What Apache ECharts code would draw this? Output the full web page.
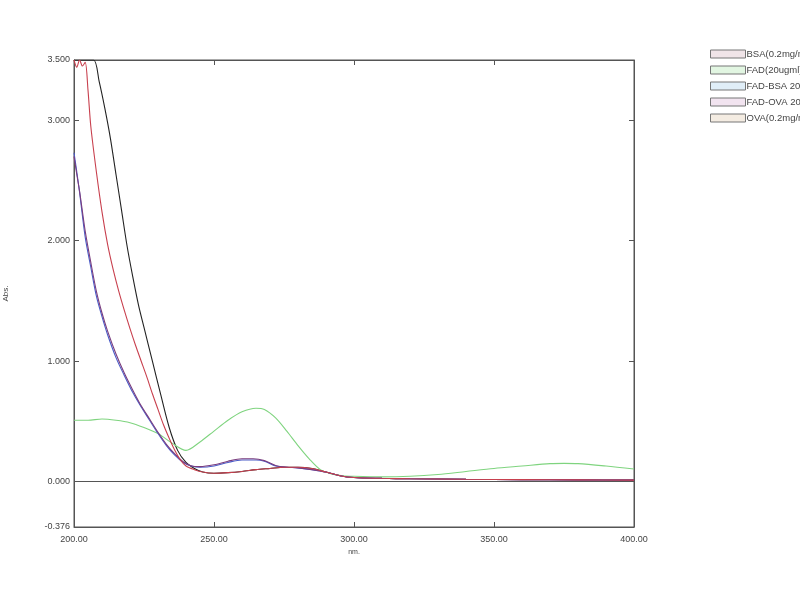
<!DOCTYPE html>
<html>
<head>
<meta charset="utf-8">
<script src="https://cdn.jsdelivr.net/npm/echarts@6/dist/echarts.min.js"></script>
<style>html,body{margin:0;padding:0;background:#fff;}#c{width:800px;height:600px;}</style>
</head>
<body>
<div id="c"></div>
<script>
// Series names (legend)
const seriesNames = ['BSA(0.2mg/ml)', 'FAD(20ugml)', 'FAD-BSA 20ug/ml', 'FAD-OVA 20ug/ml', 'OVA(0.2mg/ml)'];

// Wavelengths (nm) and absorbance values
const bsaNm  = [200, 203, 207, 209, 211, 213, 215, 217, 219, 221, 223, 225, 228, 231, 234, 237, 240, 243, 246, 250, 255, 260, 265, 270, 275, 280, 285, 290, 295, 300, 310, 320, 340, 360, 380, 400];
const bsaAbs = [3.5, 3.5, 3.5, 3.32, 3.1, 2.85, 2.55, 2.25, 1.95, 1.7, 1.47, 1.28, 1.0, 0.72, 0.45, 0.26, 0.16, 0.11, 0.08, 0.07, 0.075, 0.085, 0.1, 0.11, 0.12, 0.12, 0.11, 0.08, 0.05, 0.035, 0.028, 0.024, 0.02, 0.017, 0.015, 0.013];

const fadNm  = [200, 205, 210, 215, 220, 225, 230, 235, 240, 245, 250, 255, 260, 265, 268, 272, 276, 280, 284, 288, 292, 296, 300, 310, 320, 330, 340, 350, 360, 370, 375, 380, 390, 400];
const fadAbs = [0.51, 0.51, 0.52, 0.51, 0.49, 0.45, 0.4, 0.32, 0.26, 0.33, 0.42, 0.51, 0.58, 0.61, 0.6, 0.53, 0.42, 0.3, 0.19, 0.1, 0.065, 0.05, 0.045, 0.04, 0.045, 0.06, 0.085, 0.11, 0.13, 0.15, 0.152, 0.15, 0.13, 0.105];

const fadBsaNm  = [200, 201, 202, 204, 206, 208, 210, 212, 215, 218, 221, 224, 227, 230, 233, 236, 239, 242, 245, 250, 255, 260, 265, 268, 272, 276, 280, 285, 290, 295, 300, 310, 320, 340, 360, 380, 400];
const fadBsaAbs = [2.73, 2.57, 2.4, 2.03, 1.78, 1.54, 1.37, 1.22, 1.03, 0.88, 0.74, 0.62, 0.51, 0.4, 0.3, 0.22, 0.16, 0.13, 0.12, 0.13, 0.16, 0.18, 0.18, 0.17, 0.13, 0.12, 0.115, 0.1, 0.08, 0.05, 0.035, 0.028, 0.024, 0.02, 0.017, 0.015, 0.013];

const fadOvaNm  = [200, 201, 202, 204, 206, 208, 210, 212, 215, 218, 221, 224, 227, 230, 233, 236, 239, 242, 245, 250, 255, 260, 264, 268, 272, 276, 280, 285, 290, 295, 300, 310, 320, 340, 360, 380, 400];
const fadOvaAbs = [2.7, 2.55, 2.41, 2.08, 1.82, 1.58, 1.4, 1.25, 1.06, 0.9, 0.76, 0.63, 0.52, 0.41, 0.31, 0.23, 0.165, 0.13, 0.125, 0.14, 0.17, 0.19, 0.19, 0.175, 0.135, 0.12, 0.115, 0.1, 0.08, 0.05, 0.035, 0.028, 0.024, 0.02, 0.017, 0.015, 0.013];

const ovaNm  = [200, 201, 202, 203, 204, 205, 206, 208, 210, 212, 214, 216, 218, 220, 222, 224, 226, 228, 230, 232, 234, 236, 238, 240, 243, 246, 250, 255, 260, 265, 270, 275, 280, 285, 290, 295, 300, 310, 320, 340, 360, 380, 400];
const ovaAbs = [3.5, 3.44, 3.5, 3.45, 3.48, 3.25, 2.95, 2.57, 2.24, 1.97, 1.76, 1.58, 1.42, 1.27, 1.13, 1.0, 0.87, 0.73, 0.6, 0.47, 0.36, 0.26, 0.18, 0.13, 0.1, 0.08, 0.07, 0.075, 0.085, 0.1, 0.11, 0.12, 0.12, 0.11, 0.08, 0.05, 0.035, 0.028, 0.024, 0.02, 0.017, 0.015, 0.013];

// Axis tick labels
const xTicks = [200, 250, 300, 350, 400];
const yLabelValues = [-0.376, 0, 1, 2, 3, 3.5];
const yTickValues = [0, 1, 2, 3];

const lineColors = ['#222222', '#7fd47f', '#4a5cc8', '#7a3d7e', '#c8404e'];
const iconColors = ['#f0e4e8', '#e2f6e2', '#e0eef8', '#f2e4f0', '#f4ece2'];

function pairs(xs, ys) { return xs.map((x, i) => [x, ys[i]]); }
const allData = [pairs(bsaNm, bsaAbs), pairs(fadNm, fadAbs), pairs(fadBsaNm, fadBsaAbs), pairs(fadOvaNm, fadOvaAbs), pairs(ovaNm, ovaAbs)];

const chart = echarts.init(document.getElementById('c'), null, {renderer: 'canvas'});
const axisTxt = {color: '#444', fontSize: 9, fontFamily: 'Liberation Sans, Arial, sans-serif'};

const series = seriesNames.map((n, i) => ({
  name: n, type: 'line', data: allData[i], smooth: 0.3, showSymbol: false, symbol: 'none',
  lineStyle: {color: lineColors[i], width: 1.1}, itemStyle: {color: lineColors[i]},
  z: 3, animation: false
}));
series[0].markLine = {
  silent: true, symbol: 'none', label: {show: false},
  lineStyle: {color: '#555', width: 1, type: 'solid'},
  data: [{yAxis: 0}], animation: false
};

chart.setOption({
  animation: false,
  backgroundColor: '#fff',
  grid: {left: 74, right: 166, top: 60, bottom: 73, show: true, borderColor: '#555', borderWidth: 1, containLabel: false, outerBoundsMode: 'none'},
  legend: {
    orient: 'vertical', left: 710, top: 49, padding: 0, itemWidth: 35, itemHeight: 8, itemGap: 6,
    icon: 'rect',
    textStyle: {color: '#444', fontSize: 9.5, fontFamily: 'Liberation Sans, Arial, sans-serif', padding: [0, 0, 0, -4]},
    data: seriesNames.map((n, i) => ({name: n, itemStyle: {color: iconColors[i], borderColor: '#777', borderWidth: 1}}))
  },
  xAxis: [{
    type: 'value', min: 200, max: 400, interval: 50, position: 'bottom',
    name: 'nm.', nameLocation: 'middle', nameGap: 19,
    nameTextStyle: {color: '#444', fontSize: 7, fontFamily: 'Liberation Sans, Arial, sans-serif'},
    axisLine: {show: true, onZero: false, lineStyle: {color: '#555'}},
    axisTick: {show: true, inside: true, length: 5, lineStyle: {color: '#555'}, customValues: [250, 300, 350]},
    axisLabel: {...axisTxt, margin: 8, formatter: v => v.toFixed(2), customValues: xTicks},
    splitLine: {show: false}
  }, {
    type: 'value', min: 200, max: 400, interval: 50, position: 'top',
    axisLine: {show: true, onZero: false, lineStyle: {color: '#555'}},
    axisTick: {show: true, inside: true, length: 5, lineStyle: {color: '#555'}, customValues: [250, 300, 350]},
    axisLabel: {show: false}, splitLine: {show: false}
  }],
  yAxis: [{
    type: 'value', min: -0.376, max: 3.5, position: 'left',
    name: 'Abs.', nameLocation: 'middle', nameGap: 64,
    nameTextStyle: {color: '#444', fontSize: 8, fontFamily: 'Liberation Sans, Arial, sans-serif'},
    axisLine: {show: true, onZero: false, lineStyle: {color: '#555'}},
    axisTick: {show: true, inside: true, length: 5, lineStyle: {color: '#555'}, customValues: yTickValues},
    axisLabel: {...axisTxt, margin: 4, formatter: v => v.toFixed(3), customValues: yLabelValues},
    splitLine: {show: false}
  }, {
    type: 'value', min: -0.376, max: 3.5, position: 'right',
    axisLine: {show: true, onZero: false, lineStyle: {color: '#555'}},
    axisTick: {show: true, inside: true, length: 5, lineStyle: {color: '#555'}, customValues: yTickValues},
    axisLabel: {show: false}, splitLine: {show: false}
  }],
  series: series
});
</script>
</body>
</html>
